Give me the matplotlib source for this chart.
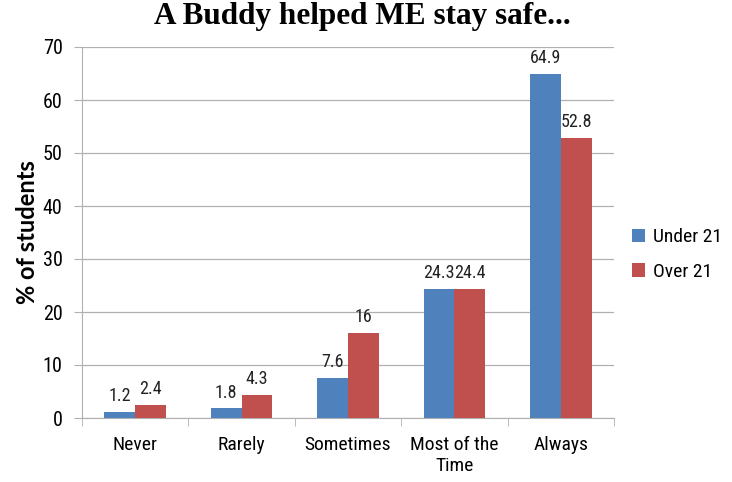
import matplotlib
matplotlib.use('Agg')
import matplotlib.pyplot as plt
import numpy as np

categories = ['Never', 'Rarely', 'Sometimes', 'Most of the\nTime', 'Always']
under_21 = [1.2, 1.8, 7.6, 24.3, 64.9]
over_21 = [2.4, 4.3, 16, 24.4, 52.8]
series_names = ['Under 21', 'Over 21']
colors = ['#4F81BD', '#C0504D']

plt.rcParams['font.family'] = ['Roboto Condensed', 'Noto Sans', 'DejaVu Sans']
plt.rcParams['font.stretch'] = 'condensed'

fig = plt.figure(figsize=(7.32, 4.82), dpi=100)
ax = fig.add_axes([82 / 732, 1 - 418 / 482, 532 / 732, 371 / 482])

x = np.arange(len(categories))
w = 0.29
b1 = ax.bar(x - w / 2, under_21, w, color=colors[0], label=series_names[0], zorder=3)
b2 = ax.bar(x + w / 2, over_21, w, color=colors[1], label=series_names[1], zorder=3)

for bars, vals in ((b1, under_21), (b2, over_21)):
    for r, v in zip(bars, vals):
        ax.text(r.get_x() + r.get_width() / 2, v + 1.3, f'{v:g}',
                ha='center', va='bottom', fontsize=13, color='#222222')

ax.set_xlim(-0.5, len(categories) - 0.5)
ax.set_ylim(0, 70)
ax.set_yticks(range(0, 71, 10))
ax.yaxis.grid(True, color='#b0b0b0', linewidth=0.9, zorder=0)
ax.tick_params(axis='y', labelsize=14.5, length=6, color='#b0b0b0', pad=8)

ax.set_xticks(x)
ax.set_xticklabels(categories, fontsize=14)
ax.tick_params(axis='x', length=0, pad=13)
ax.set_xticks(np.arange(len(categories) + 1) - 0.5, minor=True)
ax.tick_params(axis='x', which='minor', length=6, color='#b0b0b0')

for s in ('top', 'right'):
    ax.spines[s].set_visible(False)
for s in ('left', 'bottom'):
    ax.spines[s].set_color('#b0b0b0')

ax.set_ylabel('% of students', fontsize=17, fontweight='bold', labelpad=3,
              fontstretch='normal', family=['Lato', 'DejaVu Sans'])

fig.suptitle('A Buddy helped ME stay safe...', x=0.495, y=0.995,
             fontsize=22.5, fontweight='bold', family=['Liberation Serif'])

ax.legend(loc='center left', bbox_to_anchor=(1.0, 0.44), frameon=False,
          fontsize=14, handlelength=0.7, handleheight=0.7, handletextpad=0.4,
          labelspacing=0.85)

fig.savefig('out.png', dpi=100)
